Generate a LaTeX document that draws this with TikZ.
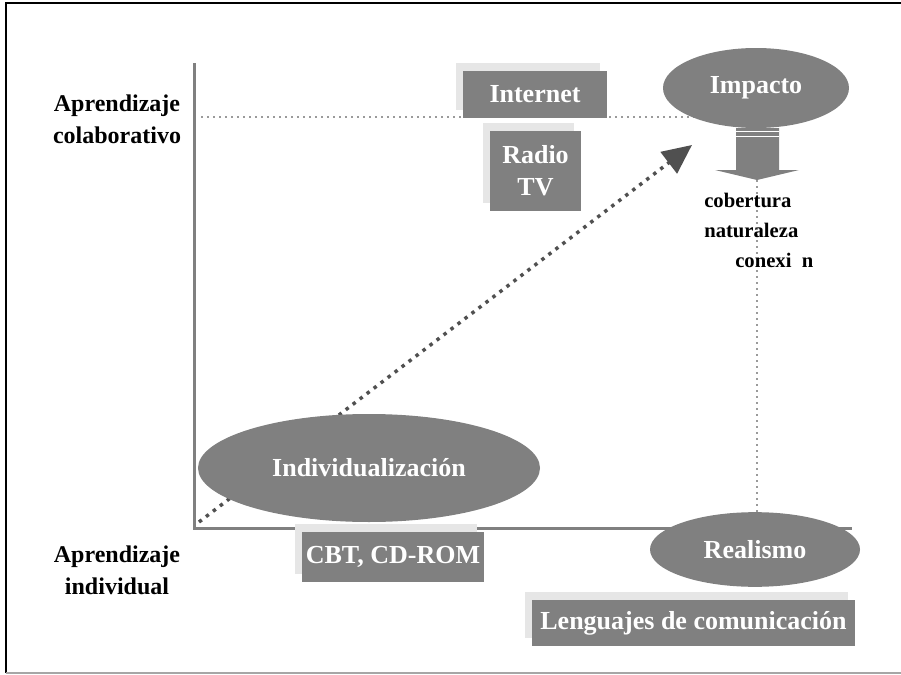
\documentclass[tikz,border=0pt]{standalone}
\usepackage{fontspec}
\setmainfont{Liberation Serif}
\usetikzlibrary{shapes.geometric,shadows,arrows.meta}

\definecolor{slidegray}{HTML}{808080}
\definecolor{shadowgray}{HTML}{E6E6E6}
\definecolor{arrowgray}{HTML}{505050}
\definecolor{dotgray}{HTML}{9A9A9A}

\pgfdeclarelayer{bg}
\pgfsetlayers{bg,main}

\tikzset{
	bigfont/.style = {font=\bfseries\fontsize{18}{24}\selectfont},
	boxfont/.style = {font=\bfseries\fontsize{19.5}{24}\selectfont},
	blob/.style = {ellipse, fill=slidegray, text=white, inner sep=0pt, boxfont},
	tag/.style = {rectangle, fill=slidegray, text=white, inner sep=0pt, align=center, boxfont,
		general shadow={fill=shadowgray, shadow xshift=-5.25pt, shadow yshift=6pt}},
	axislabel/.style = {align=center, bigfont},
	note/.style = {anchor=west, inner sep=0pt, font=\bfseries\fontsize{15.5}{18}\selectfont},
	dots/.style = {dotgray, line width=1.1pt, dash pattern=on 1.5pt off 3pt}
}

\begin{document}
\begin{tikzpicture}[x=0.75pt, y=-0.75pt]
		\useasboundingbox (0,0) rectangle (901,675);
		\draw [line width=1.2pt] (6,673) -- (6,3) -- (901,3);
		\draw [gray!70, line width=1pt] (6,673) -- (901,673);
		
		\node [blob, minimum width=139.5pt, minimum height=60pt] (impacto) at (756,88) {Impacto};
		\node [blob, minimum width=256.5pt, minimum height=81pt] (indiv) at (369,468) {Individualización};
		\node [blob, minimum width=157.5pt, minimum height=56pt] (realismo) at (755,549.5) {Realismo};
		
		\node [tag, minimum width=108pt, minimum height=35pt] (internet) at (535,94.5) {Internet};
		\node [tag, minimum width=68pt, minimum height=60pt] (radiotv) at (535.5,171) {Radio\\TV};
		\node [tag, minimum width=137pt, minimum height=37.5pt] (cbt) at (393,557) {CBT, CD-ROM};
		\node [tag, minimum width=242pt, minimum height=34.5pt] (lenguajes) at (693.5,623) {Lenguajes de comunicación};
		
		\node [axislabel] (colab) at (117,119) {Aprendizaje\\colaborativo};
		\node [axislabel] (individual) at (117,570) {Aprendizaje\\individual};
		
		\node [note] (cobertura) at (704,200) {cobertura};
		\node [note] (naturaleza) at (704,230) {naturaleza};
		\node [note] (conexion) at (735,260) {conexi\enspace n};
		
		\coordinate (origin) at (194,528);
		\coordinate (ytop) at (194,63);
		\coordinate (xend) at (852,528);
		\coordinate (hstart) at (201,117);
		\coordinate (start) at (199,522);
		\coordinate (aim) at (692,145);
		\coordinate (down) at (757,180);
		
		\begin{pgfonlayer}{bg}
		\draw [slidegray, line width=2.25pt] (ytop) -- (origin) -- (xend);
		\draw [dots] (hstart) -- (hstart -| impacto);
		\draw [dots] (down) -- (down |- realismo.north);
		\draw [arrowgray, line width=2.6pt, dash pattern=on 2.6pt off 4pt, -{Triangle[length=22pt, width=20pt]}] (start) -- (aim);
		\end{pgfonlayer}
		
		\fill [slidegray] (736,128) -- (779,128) -- (779,170) -- (799,170) -- (down) -- (715,170) -- (736,170) -- cycle;
		\draw [white, line width=0.75pt] (736,131) -- (779,131) (736,136) -- (779,136);
		
\end{tikzpicture}
\end{document}
